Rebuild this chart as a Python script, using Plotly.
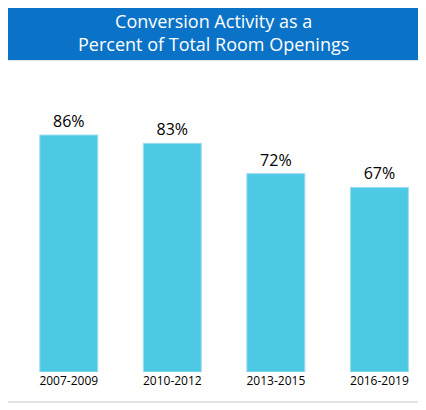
import plotly.graph_objects as go

periods = ["2007-2009", "2010-2012", "2013-2015", "2016-2019"]
share = [86, 83, 72, 67]
labels = [f"{v}%" for v in share]

fig = go.Figure()
fig.add_trace(go.Bar(
    x=periods, y=share, text=labels, textposition="outside",
    textfont=dict(size=16, color="black", family="Open Sans"),
    marker=dict(color="#4DC9E6", line=dict(color="#9FDDEE", width=1)),
    width=0.56, cliponaxis=False,
))

# the page has an 8px body margin, so the figure is drawn 8px in from the window edge
def px_x(p):
    return (p - 17) / 409

def px_y(p):
    return (372 - p) / 302

# chart frame
fig.add_shape(type="rect", xref="paper", yref="paper",
              x0=px_x(4), x1=px_x(422), y0=px_y(402), y1=px_y(60),
              line=dict(color="#D9D9D9", width=1.5), fillcolor="white", layer="below")
# title banner
fig.add_shape(type="rect", xref="paper", yref="paper",
              x0=px_x(4), x1=px_x(422), y0=px_y(60), y1=px_y(8),
              line=dict(width=0), fillcolor="#0A73C7")
fig.add_annotation(xref="paper", yref="paper", x=px_x(213), y=px_y(33),
                   xanchor="center", yanchor="middle",
                   text="Conversion Activity as a<br>Percent of Total Room Openings",
                   showarrow=False, font=dict(size=18, color="white", family="Open Sans"))

fig.update_layout(
    width=418, height=402, margin=dict(l=9, r=0, t=62, b=38),
    paper_bgcolor="white", plot_bgcolor="white", showlegend=False,
    xaxis=dict(range=[-0.5, 3.45], showline=False, ticks="",
               tickfont=dict(size=12, color="black", family="Open Sans")),
    yaxis=dict(range=[0, 109.6], visible=False),
)
fig.write_html("out.html")
